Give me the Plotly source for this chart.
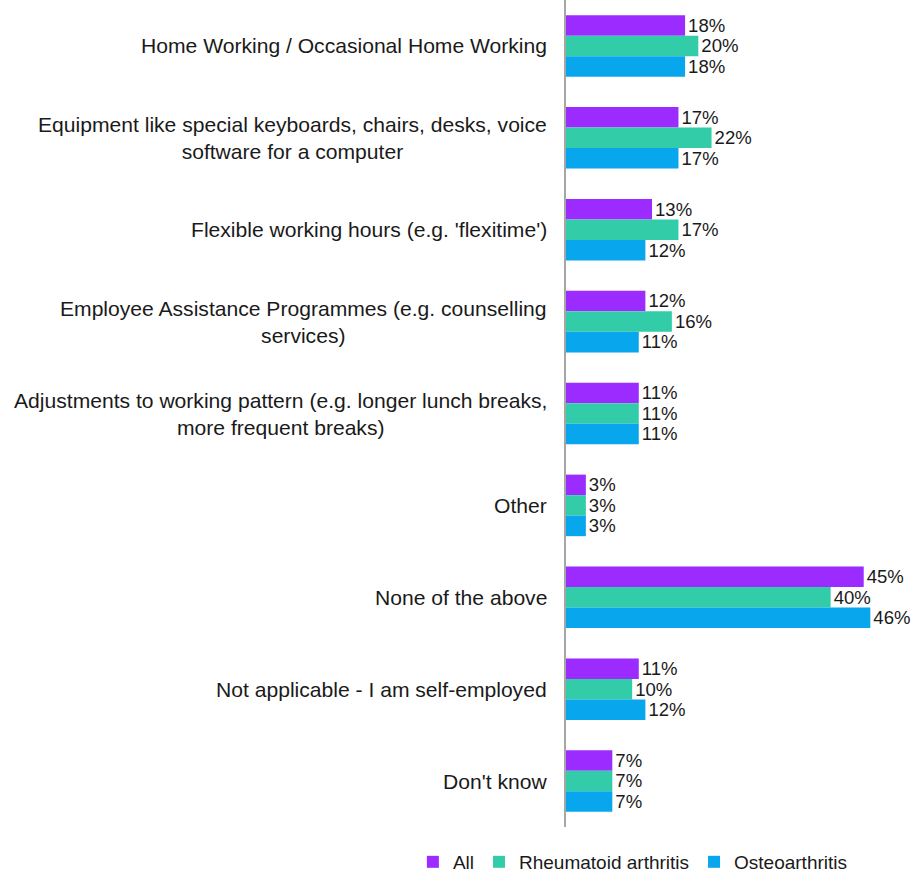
import plotly.graph_objects as go

categories = [
    "Home Working / Occasional Home Working",
    "Equipment like special keyboards, chairs, desks, voice<br>software for a computer",
    "Flexible working hours (e.g. 'flexitime')",
    "Employee Assistance Programmes (e.g. counselling<br>services)",
    "Adjustments to working pattern (e.g. longer lunch breaks,<br>more frequent breaks)",
    "Other",
    "None of the above",
    "Not applicable - I am self-employed",
    "Don't know",
]
series_names = ["All", "Rheumatoid arthritis", "Osteoarthritis"]
all_vals = [18, 17, 13, 12, 11, 3, 45, 11, 7]
ra_vals = [20, 22, 17, 16, 11, 3, 40, 10, 7]
oa_vals = [18, 17, 12, 11, 11, 3, 46, 12, 7]
colors = ["#9B2BFF", "#32CCA8", "#08A6EC"]

FONT = "Liberation Sans, Arial, sans-serif"
fig = go.Figure()
for name, vals, col in zip(series_names, [all_vals, ra_vals, oa_vals], colors):
    fig.add_trace(go.Bar(
        y=categories, x=vals, name=name, orientation="h",
        marker=dict(color=col, line=dict(width=0)),
        text=[f"{v}%" for v in vals], textposition="outside",
        textfont=dict(family=FONT, size=19, color="#1a1a1a"),
        cliponaxis=False,
    ))

# category labels, centred line by line and right-aligned to the axis
for cat in categories:
    fig.add_annotation(
        x=0, xref="paper", y=cat, yref="y", text=cat, showarrow=False,
        xanchor="right", xshift=-17, align="center",
        font=dict(family=FONT, size=21.1, color="#1a1a1a"),
    )

fig.update_layout(
    width=914, height=875,
    margin=dict(l=566, r=0, t=0, b=48, autoexpand=False),
    barmode="group", bargap=0.33, bargroupgap=0,
    plot_bgcolor="white", paper_bgcolor="white",
    font=dict(family=FONT, size=18, color="#1a1a1a"),
    showlegend=True,
    legend=dict(
        orientation="h", xref="paper", yref="paper",
        x=-0.44, xanchor="left", y=-0.0193, yanchor="top",
        font=dict(family=FONT, size=19, color="#1a1a1a"),
    ),
)
fig.update_xaxes(range=[0, 52.6], visible=False, showgrid=False, zeroline=False)
fig.update_yaxes(
    autorange="reversed", showticklabels=False, showgrid=False, zeroline=False,
    showline=True, linecolor="#A6A6A6", linewidth=1.5, ticks="",
)

fig.write_html("out.html")
